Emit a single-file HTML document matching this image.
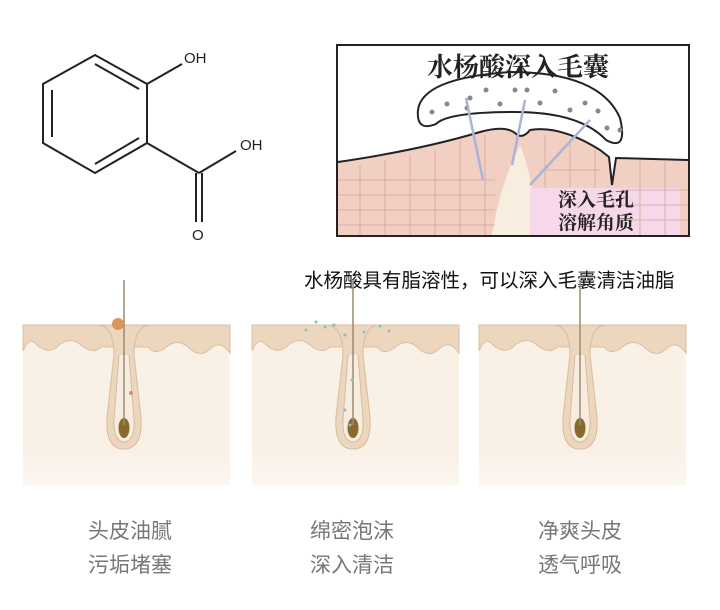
<!DOCTYPE html>
<html><head><meta charset="utf-8"><style>
body{margin:0;background:#fff;width:720px;height:610px;overflow:hidden;font-family:"Liberation Sans","Noto Sans CJK SC",sans-serif}
</style></head><body>
<svg width="720" height="610" viewBox="0 0 720 610" xmlns="http://www.w3.org/2000/svg" style="position:absolute;left:0;top:0">
<defs>
<linearGradient id="fade" x1="0" y1="0" x2="0" y2="1"><stop offset="0.75" stop-color="#f9f0e6"/><stop offset="1" stop-color="#fbf6f0"/></linearGradient>
<g id="panel">
  <rect x="0" y="0" width="207" height="160" fill="url(#fade)"/>
  <path d="M0 0 H207 V28 Q197 14 187 24 Q177 34 165 22 Q153 12 141 24 Q131 30 125 22 L78 22 Q70 30 58 20 Q46 10 34 22 Q24 30 12 18 Q6 12 0 26 Z" fill="#ecd6bd" stroke="#dcc0a3"/>
  <path d="M76 0 Q91 2 91 30 L84 92 Q82 124 101 124 Q120 124 118 92 L111 30 Q111 2 126 0 Z" fill="#ecd6bd" stroke="#d8bc9e"/>
  <path d="M96 30 L91 95 Q90 116 101 117 Q112 116 111 95 L106 30" fill="#f7ece0" stroke="#d8bc9e"/>
  <ellipse cx="101" cy="103" rx="5.5" ry="10" fill="#8a6a2a"/>
  <line x1="101" y1="-45" x2="101" y2="100" stroke="#9a8a70" stroke-width="1.5"/>
</g>
</defs>
<!-- molecule -->
<g stroke="#222" stroke-width="2" fill="none">
<polygon points="95,55 147,84 147,143 95,173 43,143 43,84"/>
<line x1="95" y1="64" x2="139" y2="89"/>
<line x1="52" y1="90" x2="52" y2="137"/>
<line x1="95" y1="164" x2="139" y2="138"/>
<line x1="147" y1="84" x2="182" y2="64"/>
<line x1="147" y1="143" x2="199" y2="173"/>
<line x1="199" y1="173" x2="236" y2="151"/>
<line x1="196" y1="173" x2="196" y2="222"/>
<line x1="202" y1="173" x2="202" y2="222"/>
</g>
<g font-size="15" fill="#222">
<text x="184" y="63">OH</text>
<text x="240" y="150">OH</text>
<text x="192" y="240">O</text>
</g>
<!-- skin diagram -->
<rect x="337" y="45" width="352" height="191" fill="#fff" stroke="#222" stroke-width="2"/>
<path d="M338 162 Q420 150 480 132 Q505 125 515 133 Q522 140 530 130 Q560 125 600 150 L609 157 L612 185 L616 158 L688 160 L688 235 L338 235 Z" fill="#f1cfc3"/>
<path d="M338 162 Q420 150 480 132 Q505 125 515 133 Q522 140 530 130 Q560 125 600 150 L609 157 L612 185 L616 158 L688 160" fill="none" stroke="#222" stroke-width="2"/>
<path d="M492 235 Q500 185 520 145 Q535 180 535 235 Z" fill="#f7eee0"/>
<rect x="530" y="188" width="150" height="47" fill="#f7d8ea"/>
<g stroke="#d6a49a" stroke-width="0.8" fill="none">
<path d="M338 180 H495 M338 195 H495 M338 210 H495 M338 225 H495 M540 170 H600 M620 190 H688 M620 205 H688 M620 220 H688"/>
<path d="M360 165 V235 M385 160 V235 M410 155 V235 M435 150 V235 M460 140 V235 M485 135 V235 M545 135 V188 M570 140 V188 M595 150 V188 M640 160 V235 M665 160 V235"/>
</g>
<path d="M418 110 Q422 78 510 72 Q600 72 620 118 Q628 152 606 140 Q580 112 515 112 Q448 112 436 124 Q416 132 418 110 Z" fill="#fff" stroke="#222" stroke-width="2"/>
<g fill="#888"><circle cx="432" cy="112" r="2.5"/><circle cx="447" cy="104" r="2.5"/><circle cx="470" cy="98" r="2.5"/><circle cx="486" cy="90" r="2.5"/><circle cx="500" cy="104" r="2.5"/><circle cx="515" cy="90" r="2.5"/><circle cx="527" cy="90" r="2.5"/><circle cx="540" cy="103" r="2.5"/><circle cx="555" cy="91" r="2.5"/><circle cx="570" cy="110" r="2.5"/><circle cx="585" cy="103" r="2.5"/><circle cx="598" cy="111" r="2.5"/><circle cx="607" cy="128" r="2.5"/><circle cx="620" cy="130" r="2.5"/><circle cx="467" cy="108" r="2.5"/></g>
<g stroke="#a9b4d6" stroke-width="2.5"><line x1="466" y1="98" x2="483" y2="180"/><line x1="525" y1="100" x2="512" y2="165"/><line x1="590" y1="120" x2="530" y2="185"/></g>
<g font-size="26" fill="#222" font-weight="bold" font-family="'Liberation Sans','Noto Serif CJK SC',serif"><text x="427" y="76">水杨酸深入毛囊</text></g>
<g font-size="19" fill="#222" font-weight="bold" font-family="'Liberation Sans','Noto Serif CJK SC',serif"><text x="558" y="206">深入毛孔</text><text x="558" y="229">溶解角质</text></g>
<text x="304" y="287" font-size="19.5" fill="#111">水杨酸具有脂溶性，可以深入毛囊清洁油脂</text>
<!-- panels -->
<use href="#panel" x="23" y="325"/>
<use href="#panel" x="252" y="325"/>
<use href="#panel" x="479" y="325"/>
<circle cx="118" cy="324" r="6" fill="#d9955a"/>
<circle cx="131" cy="393" r="2" fill="#e08a6a"/>
<g fill="#7fc4c4"><circle cx="316" cy="322" r="1.5"/><circle cx="325" cy="327" r="1.5"/><circle cx="334" cy="325" r="1.5"/><circle cx="345" cy="335" r="1.5"/><circle cx="364" cy="332" r="1.5"/><circle cx="380" cy="326" r="1.5"/><circle cx="389" cy="331" r="1.5"/><circle cx="352" cy="380" r="1.5"/><circle cx="345" cy="410" r="1.5"/><circle cx="350" cy="425" r="1.5"/><circle cx="306" cy="330" r="1.5"/></g>
<g font-size="21" fill="#777" text-anchor="middle"><text x="130" y="538">头皮油腻</text><text x="130" y="572">污垢堵塞</text><text x="352" y="538">绵密泡沫</text><text x="352" y="572">深入清洁</text><text x="580" y="538">净爽头皮</text><text x="580" y="572">透气呼吸</text></g>
</svg>
</body></html>
